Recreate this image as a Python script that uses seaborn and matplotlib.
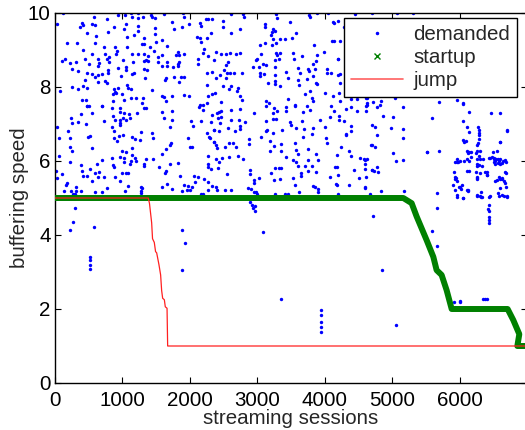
import numpy as np
import pandas as pd
import matplotlib
matplotlib.use("Agg")
import matplotlib.pyplot as plt
from matplotlib.lines import Line2D
import seaborn as sns

# demanded buffering speed per session
demanded = [
    # x 0-2350, y 7.5-10
    (124, 9.99), (583, 9.90), (776, 9.83), (939, 9.94), (1037, 9.94), (1126, 9.99), (1225, 9.99),
    (1146, 9.90), (1225, 9.87), (1304, 9.88), (1418, 9.94), (1433, 9.88), (1487, 9.86), (1610, 9.98),
    (1902, 9.99), (1912, 9.90), (2233, 9.85), (2272, 9.83), (2322, 9.83),
    (35, 9.70), (395, 9.73), (420, 9.67), (375, 9.63), (543, 9.70), (593, 9.67), (1047, 9.70),
    (1028, 9.58), (1225, 9.65), (1225, 9.52), (869, 9.62), (781, 9.50), (469, 9.46), (603, 9.38),
    (1062, 9.36), (1166, 9.41), (1314, 9.33), (1477, 9.59), (1477, 9.42), (1739, 9.76), (1769, 9.56),
    (1887, 9.63), (1991, 9.71), (2149, 9.73), (2159, 9.64), (2317, 9.46), (2104, 9.36), (2154, 9.33),
    (2248, 9.33), (2164, 9.22),
    (183, 9.18), (321, 9.19), (593, 9.18), (721, 9.07), (889, 9.07), (1062, 9.09), (1284, 9.15),
    (1319, 9.16), (1403, 9.08), (1492, 9.22), (1591, 9.26), (1660, 9.10), (2213, 9.03),
    (420, 8.99), (543, 8.89), (741, 8.89), (919, 8.97), (899, 8.88), (1146, 8.89), (1225, 8.88),
    (1314, 8.88), (1383, 8.84), (1522, 8.81), (1581, 8.86), (1472, 8.98), (1818, 8.95), (1798, 8.86),
    (1917, 8.88), (1838, 8.86), (2198, 8.93), (2263, 8.85), (2351, 8.73),
    (148, 8.77), (109, 8.70), (222, 8.66), (316, 8.68), (445, 8.76), (642, 8.77), (766, 8.76),
    (800, 8.82), (647, 8.65), (642, 8.56), (805, 8.68), (1013, 8.72), (1151, 8.68), (1324, 8.70),
    (1344, 8.73), (1373, 8.70), (1531, 8.68), (1655, 8.68), (1660, 8.57), (1754, 8.55), (1818, 8.63),
    (1828, 8.57), (1838, 8.68), (2124, 8.77), (2124, 8.61),
    (257, 8.50), (336, 8.43), (509, 8.61), (469, 8.39), (553, 8.34), (642, 8.32), (692, 8.36),
    (781, 8.46), (790, 8.38), (939, 8.52), (1052, 8.55), (1047, 8.46), (978, 8.29), (1141, 8.36),
    (1176, 8.37), (1324, 8.49), (1363, 8.45), (1334, 8.23), (1581, 8.56), (1645, 8.25), (1635, 8.19),
    (1764, 8.27), (1867, 8.28), (1917, 8.28), (1838, 8.14), (2248, 8.39), (2332, 8.41), (2248, 8.05),
    (445, 8.19), (593, 8.28), (642, 8.14), (741, 8.16), (771, 8.12), (420, 8.03), (346, 7.94),
    (247, 8.00), (69, 7.90), (474, 7.98), (879, 7.95), (929, 7.96), (1062, 8.05), (1077, 7.96),
    (889, 7.87), (860, 7.82), (909, 7.83), (988, 7.82), (1126, 7.95), (1200, 7.71), (1309, 7.71),
    (1433, 7.92), (1581, 7.76), (1610, 7.73), (1739, 7.77), (1907, 7.78), (1986, 7.76), (2263, 7.75),
    (2322, 7.81), (395, 7.65), (455, 7.65), (692, 7.50), (860, 7.62), (1028, 7.65), (1126, 7.71),
    (1284, 7.58), (1640, 7.62), (2154, 7.51), (2248, 7.56), (2198, 7.51), (474, 7.49),
    # x 0-2350, y 5-7.5
    (469, 7.48), (509, 7.48), (692, 7.49), (850, 7.42), (963, 7.42), (968, 7.33), (1023, 7.29),
    (1102, 7.26), (1215, 7.31), (1324, 7.42), (1344, 7.42), (1591, 7.33), (1729, 7.35), (2134, 7.47),
    (2198, 7.38), (2322, 7.24),
    (385, 7.28), (543, 7.29), (237, 7.17), (336, 7.06), (247, 7.02), (459, 6.99), (731, 7.08),
    (864, 7.22), (889, 7.11), (963, 7.11), (968, 7.04), (1008, 7.15), (1107, 7.15), (1057, 7.10),
    (963, 6.97), (850, 6.93), (879, 6.81), (1275, 6.79), (1442, 6.75), (1615, 7.15), (1729, 7.12),
    (1709, 6.93), (2016, 7.08), (2045, 6.95), (2164, 7.08), (2317, 7.06), (2351, 6.84), (2248, 6.77),
    (198, 6.81), (59, 6.61), (222, 6.61), (484, 6.64), (524, 6.68), (879, 6.63), (953, 6.68),
    (1013, 6.70), (924, 6.54), (1146, 6.65), (1186, 6.60), (1265, 6.56), (1447, 6.61), (1719, 6.48),
    (1704, 6.43), (1640, 6.32), (1966, 6.61), (1996, 6.37), (2025, 6.38), (2282, 6.66), (2297, 6.62),
    (2356, 6.51), (25, 6.93),
    (222, 6.38), (247, 6.27), (543, 6.36), (988, 6.28), (1136, 6.36), (1052, 6.25), (1136, 6.16),
    (1126, 6.00), (1186, 6.07), (1195, 6.01), (958, 6.11), (1018, 6.09), (840, 6.09), (692, 6.02),
    (617, 5.91), (519, 5.78), (380, 5.89), (222, 5.96), (59, 6.13), (864, 5.89), (879, 5.85),
    (1028, 5.96), (1116, 5.91), (1324, 5.91), (1349, 6.05), (1452, 6.05), (1324, 5.86), (1546, 5.85),
    (1591, 6.18), (1704, 5.93), (1818, 5.94), (1645, 5.73), (1630, 5.68), (2263, 6.14), (2263, 5.91),
    (2312, 5.78), (2263, 5.83),
    (109, 5.64), (405, 5.73), (420, 5.60), (469, 5.60), (593, 5.68), (652, 5.69), (731, 5.58),
    (642, 5.57), (553, 5.47), (889, 5.56), (998, 5.67), (1047, 5.68), (1087, 5.67), (958, 5.47),
    (1077, 5.33), (1284, 5.26), (1275, 5.19), (1275, 5.13), (1275, 5.31), (1853, 5.59), (1917, 5.35),
    (1966, 5.33), (2025, 5.31), (2055, 5.60), (2124, 5.58), (2213, 5.51), (2263, 5.44), (2322, 5.33),
    (2272, 5.22), (2198, 5.11), (2159, 5.10), (2075, 5.44), (2001, 5.21), (1951, 5.21), (1877, 5.20),
    (1665, 5.37), (1591, 5.31), (1729, 5.24), (183, 5.40), (168, 5.35), (306, 5.29), (128, 5.19),
    (232, 5.20), (306, 5.19), (380, 5.20), (593, 5.17), (692, 5.17), (766, 5.26), (1037, 5.19),
    (272, 5.11), (296, 5.11), (30, 5.53), (10, 5.74),
    # x 2350-4700, y 7.5-10
    (2613, 9.96), (2786, 9.96), (2795, 9.90), (3270, 9.96), (3882, 9.99), (4045, 9.99), (4198, 9.79),
    (4129, 9.73), (4282, 9.63), (4307, 9.70), (4336, 9.71), (2489, 9.78), (2489, 9.63), (2746, 9.58),
    (2613, 9.47), (3107, 9.69), (3107, 9.63), (3230, 9.56), (3265, 9.52), (3221, 9.49), (3206, 9.40),
    (3230, 9.31), (3294, 9.87), (3477, 9.76), (3764, 9.94), (3774, 9.88), (3576, 9.45), (3517, 9.33),
    (3403, 9.29), (3329, 9.29), (3270, 9.20), (3042, 9.13), (3111, 9.18), (3221, 9.13), (3833, 9.13),
    (4129, 9.24), (4228, 9.24), (3986, 8.95), (4198, 8.77), (4341, 9.01),
    (2380, 8.95), (2465, 8.88), (2539, 8.88), (2588, 8.91), (2677, 8.88), (2746, 8.93), (2563, 8.68),
    (2529, 8.59), (2499, 8.46), (2553, 8.37), (2588, 8.37), (2647, 8.39), (2776, 8.37), (2440, 8.32),
    (2380, 8.23), (2539, 8.23), (2489, 8.03), (2613, 8.03), (2578, 7.94), (2711, 7.96), (2697, 7.90),
    (2736, 7.75), (2776, 7.66), (2973, 8.73), (2993, 8.77), (3047, 8.88), (3082, 8.63), (3121, 8.59),
    (2934, 8.55), (3023, 8.55), (3033, 8.39), (3033, 8.30), (3092, 8.34), (3156, 8.10), (3255, 8.32),
    (3270, 8.91), (3289, 8.86), (3329, 8.91), (3319, 8.77), (3260, 8.74), (3527, 8.92), (3546, 8.75),
    (3665, 8.83), (3764, 8.43), (3749, 8.48), (3848, 8.48), (3882, 8.86), (3862, 8.70), (3823, 8.63),
    (3457, 8.23), (3255, 8.16), (3255, 8.07), (3339, 8.03), (3601, 8.19), (3739, 8.21), (3615, 8.05),
    (3823, 8.30), (3882, 8.07), (3774, 7.89), (3872, 8.10), (4030, 8.48), (4095, 8.37), (4035, 8.38),
    (4218, 8.34), (4218, 8.10), (4317, 8.23), (4366, 8.28), (4381, 8.01), (3996, 7.85), (4119, 7.75),
    (4208, 7.83), (4218, 7.62), (4366, 8.77), (4332, 8.99), (2366, 7.84), (2465, 7.60), (3131, 7.62),
    (3171, 7.56), (3452, 7.67), (3551, 7.51), (3699, 7.81), (3813, 7.69), (3823, 7.62), (4381, 7.67),
    (4475, 7.67), (4613, 7.71), (4623, 7.56), (4095, 7.49), (3428, 8.41), (3601, 8.52), (3635, 8.38),
    (3255, 8.54), (4123, 9.77), (4099, 9.25), (4188, 8.77), (4188, 8.32),
    # x 2350-4700, y 5-7.5
    (2430, 7.33), (2465, 7.35), (2400, 7.29), (2613, 7.38), (2746, 7.40), (2415, 7.17), (2460, 7.19),
    (2613, 7.11), (2450, 7.02), (2356, 6.85), (2430, 6.81), (2563, 6.88), (2662, 6.82), (2736, 6.86),
    (2746, 6.95), (2726, 7.11), (2810, 7.06), (2944, 7.29), (3131, 7.49), (3240, 7.44), (3230, 7.29),
    (3289, 7.35), (3418, 7.46), (3418, 7.36), (3551, 7.49), (3675, 7.33), (3734, 7.48), (3774, 7.38),
    (3131, 7.09), (3230, 7.13), (3280, 7.13), (3477, 7.06), (3497, 6.97), (3665, 7.09), (3922, 7.11),
    (4070, 7.18), (4129, 7.36), (4208, 7.22), (4208, 7.11), (4282, 7.09), (4317, 7.40), (4391, 7.47),
    (4475, 7.36), (4613, 7.49), (4613, 7.36), (4692, 6.98), (4386, 6.95), (4391, 6.81), (4307, 6.70),
    (4001, 6.93), (3823, 6.88), (3813, 6.72), (3576, 6.90), (3684, 6.86), (3364, 6.84), (3230, 6.77),
    (3141, 6.84), (3047, 6.65), (2874, 6.59), (2874, 6.47), (2578, 6.50), (2637, 6.50), (2677, 6.37),
    (2514, 6.38), (2356, 6.52), (2380, 6.43), (2400, 6.36), (3181, 6.55), (3349, 6.47), (3556, 6.50),
    (3680, 6.64), (4010, 6.63), (4030, 6.50), (4233, 6.38), (4352, 6.27), (4391, 6.14), (4179, 6.16),
    (3749, 6.32), (3872, 6.18), (3596, 6.20), (3566, 6.30), (3354, 6.28), (3240, 6.41), (3190, 6.28),
    (3418, 6.12), (3527, 6.04), (3566, 5.98), (3749, 6.03), (3897, 6.03), (4514, 6.07), (4574, 6.05),
    (4623, 6.05), (4594, 5.91), (4692, 5.75), (4589, 5.78), (4687, 6.43), (2390, 6.05), (2474, 6.07),
    (2578, 6.12), (2717, 6.13), (2786, 6.05), (2430, 5.96), (2415, 5.80), (2553, 5.64), (2884, 5.75),
    (2884, 5.64), (2949, 5.49), (2949, 5.41), (3023, 5.55), (3255, 5.82), (3319, 5.80), (3344, 5.82),
    (3596, 5.86), (3699, 5.86), (3808, 5.87), (3650, 5.67), (3645, 5.60), (3754, 5.73), (3872, 5.71),
    (3527, 5.55), (3551, 5.35), (3196, 5.68), (3250, 5.49), (3329, 5.51), (3823, 5.32), (3848, 5.30),
    (3897, 5.24), (3902, 5.15), (4070, 5.58), (4198, 5.62), (4159, 5.38), (4179, 5.35), (4144, 5.84),
    (4184, 5.84), (4356, 5.35), (4430, 5.76), (4500, 5.55), (4603, 5.58), (4589, 5.28), (2860, 5.28),
    (2909, 5.24), (2949, 5.17), (2974, 5.15), (2993, 5.12), (2514, 5.21), (2613, 5.21), (2405, 5.21),
    (2380, 5.31), (3403, 5.12), (3452, 5.10), (3615, 5.17), (3255, 5.12), (4193, 5.10), (4663, 5.10),
    (3131, 6.81), (4317, 6.72),
    # x 4600-5700
    (4692, 9.99), (5062, 9.99), (5309, 10.0), (4440, 9.98),
    (4618, 7.70), (4618, 7.52), (4717, 7.60), (4766, 7.47), (4825, 7.63), (4815, 7.52), (5151, 7.45),
    (5037, 7.70), (5013, 7.18), (4855, 7.22), (4741, 6.93), (4766, 6.71), (4692, 6.44), (4741, 6.39),
    (5161, 6.86), (5161, 6.62), (4973, 6.88), (5013, 6.21), (5151, 6.03), (5052, 5.99), (4593, 6.03),
    (4766, 5.85), (4726, 5.74), (4791, 5.71), (4692, 5.76), (4593, 5.31), (4825, 5.18), (5171, 5.19),
    (5690, 7.60), (5581, 7.15), (5507, 6.23), (5685, 6.26), (5664, 5.13),
    # x 5900-6700 clusters
    (5951, 7.65), (6040, 7.56), (6099, 6.93), (6050, 6.57), (5951, 5.96), (6025, 5.35), (6455, 7.29),
    (6692, 6.84), (6050, 7.54), (6139, 7.32), (6040, 7.07), (6593, 7.31), (6702, 6.82), (6139, 6.78),
    (6272, 6.91), (6287, 6.84), (6287, 6.77), (6287, 6.70), (6287, 6.59), (6272, 6.48), (6248, 6.44),
    (6089, 6.55), (6060, 6.51), (6593, 6.51), (6099, 6.26), (6124, 6.21), (6159, 6.24), (6248, 6.26),
    (6297, 6.28), (6484, 6.24), (6553, 6.27), (6159, 6.12), (6099, 6.05), (6257, 6.05), (6297, 6.05),
    (6336, 6.05), (6435, 6.08), (6469, 6.12), (6504, 6.08), (6000, 6.01), (6060, 6.01), (5961, 6.05),
    (5926, 5.96), (5976, 5.96), (6139, 6.01), (6248, 5.92), (6257, 5.87), (6287, 5.89), (6321, 5.87),
    (5911, 5.69), (5926, 5.56), (5951, 5.47), (5926, 5.51), (5902, 5.35), (6011, 5.24), (5991, 5.29),
    (6099, 5.74), (6129, 5.74), (6238, 5.69), (6248, 5.56), (6257, 5.51), (6371, 5.69), (6396, 5.62),
    (6519, 5.47), (6583, 5.56), (6618, 5.51), (6652, 5.47), (6593, 5.27), (6682, 5.29), (6099, 5.22),
    (6124, 5.19), (5926, 5.22), (5951, 5.08), (6050, 4.99), (6248, 5.06), (6297, 5.06), (6321, 5.02),
    (6445, 5.06), (6573, 5.06), (6652, 5.06), (6692, 5.04), (6306, 5.17),
    (6500, 6.05), (6520, 6.00), (6540, 6.05), (6560, 5.95), (6580, 6.00), (6600, 6.05), (6620, 5.95),
    (6640, 6.00), (6660, 6.02), (6520, 5.92), (6600, 5.92), (6560, 6.06), (6680, 5.96), (6510, 5.96),
    (6593, 6.52), (6138, 6.25), (6237, 6.21), (6286, 6.14), (6444, 6.07), (6593, 5.51), (6617, 5.53),
    (6543, 5.49), (6667, 5.40), (6667, 5.71), (6682, 5.67), (6395, 5.71), (6395, 5.62), (6296, 5.67),
    (6257, 5.53), (5941, 5.53), (5950, 5.04), (6000, 5.31), (6123, 5.22), (6039, 5.00), (6257, 5.09),
    (6306, 5.04), (6434, 5.02), (6568, 5.13), (6617, 5.09), (6691, 5.06), (5506, 6.23),
    # below the startup line
    (222, 4.14), (262, 4.36), (296, 4.72), (519, 3.41), (519, 3.32), (519, 3.19), (519, 3.08),
    (578, 4.22), (1877, 4.14), (1926, 3.79), (1877, 3.05), (2889, 4.90), (2914, 4.82), (2938, 4.73),
    (2963, 4.65), (2963, 4.78), (3086, 4.09), (3348, 2.26), (3948, 1.97), (3948, 1.84), (3948, 1.66),
    (3948, 1.52), (3948, 1.39), (4706, 4.52), (4844, 3.05), (5052, 1.56), (5580, 4.11), (5664, 3.71),
    (5664, 4.72), (5911, 2.20), (6000, 2.22), (6000, 2.18), (6345, 2.26), (6370, 2.26), (6395, 2.26),
    (6425, 4.80), (6425, 4.65), (6425, 4.50), (6425, 4.40), (6425, 4.32), (6420, 4.70),
]

# startup speed (green x markers, drawn densely)
startup_x = [0, 5160, 5284, 5358, 5506, 5605, 5654, 5728, 5802, 5877, 6706, 6790, 6879, np.nan, 6850, 6990]
startup_y = [5.0, 5.0, 4.86, 4.50, 3.86, 3.41, 3.05, 2.92, 2.51, 2.0, 2.0, 1.70, 1.32, np.nan, 1.0, 1.0]

# jump speed (red line)
jump_x = [0, 1382, 1400, 1432, 1445, 1471, 1490, 1506, 1540, 1565, 1580, 1595, 1620, 1634, 1660, 1669, 6990]
jump_y = [5.0, 5.0, 4.85, 4.33, 3.9, 3.80, 3.55, 3.52, 3.2, 2.92, 2.5, 2.29, 2.25, 2.06, 2.02, 1.0, 1.0]

xticks = [0, 1000, 2000, 3000, 4000, 5000, 6000]
yticks = [0, 2, 4, 6, 8, 10]

sns.set_style("ticks")
plt.rcParams['font.family'] = ['Liberation Sans', 'DejaVu Sans']
fs = 14.8

df = pd.DataFrame(demanded, columns=["session", "speed"])

fig = plt.figure(figsize=(5.25, 4.3), dpi=100)
ax = fig.add_axes([55 / 525, 47 / 430, 472 / 525, 370 / 430])

sns.scatterplot(data=df, x="session", y="speed", ax=ax, color="#0000ff", s=6,
                linewidth=0, marker="o", legend=False, zorder=2)
sns.lineplot(x=startup_x, y=startup_y, ax=ax, color="#008000", linewidth=4.3,
             sort=False, estimator=None, zorder=3)
sns.lineplot(x=jump_x, y=jump_y, ax=ax, color="#ff2020", linewidth=0.9,
             sort=False, estimator=None, zorder=4)

ax.set_xlim(0, 6993)
ax.set_ylim(0, 10)
ax.set_xticks(xticks)
ax.set_yticks(yticks)
ax.tick_params(direction="in", top=True, right=True, length=4, width=0.8,
               labelsize=fs, colors="black", pad=3)
ax.tick_params(axis="x", pad=6)
for sp in ax.spines.values():
    sp.set_visible(True)
    sp.set_color("black")
    sp.set_linewidth(1.0)
ax.set_xlabel("streaming sessions", fontsize=fs, labelpad=-1)
ax.set_ylabel("buffering speed", fontsize=fs, labelpad=-1)

handles = [
    Line2D([], [], ls="none", marker=".", color="#0000ff", markersize=3),
    Line2D([], [], ls="none", marker="x", color="#008000", markersize=4, markeredgewidth=1),
    Line2D([], [], color="#ff6060", linewidth=1.2),
]
leg = ax.legend(handles, ["demanded", "startup", "jump"], loc="upper right",
                bbox_to_anchor=(0.979, 0.987), borderaxespad=0, fontsize=fs,
                frameon=True, fancybox=False, framealpha=1, edgecolor="black",
                handlelength=2.5, handletextpad=0.5, labelspacing=0.2,
                borderpad=0.35)
leg.get_frame().set_linewidth(1.0)

fig.savefig("out.png", dpi=100)
